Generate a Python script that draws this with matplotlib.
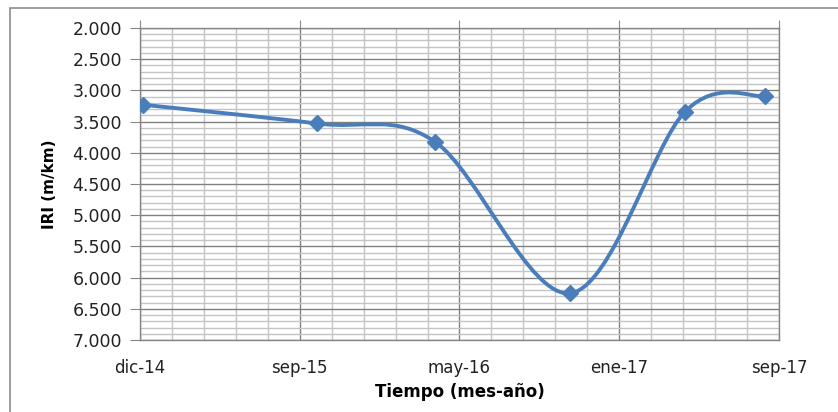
import matplotlib
matplotlib.use("Agg")
import matplotlib.pyplot as plt
import matplotlib.dates as mdates
import numpy as np
from matplotlib.path import Path
from matplotlib.patches import PathPatch, Rectangle
from matplotlib.ticker import MultipleLocator, FixedLocator, FuncFormatter
from datetime import date

# survey dates and IRI readings (m/km)
fechas = ["2015-01-05", "2015-09-28", "2016-03-27", "2016-10-21", "2017-04-15", "2017-08-15"]
iri = [3.23, 3.53, 3.82, 6.25, 3.34, 3.09]

eje_inicio = "2014-12-31"
paso_dias = 245
etiquetas_x = ["dic-14", "sep-15", "may-16", "ene-17", "sep-17"]

azul = "#4A7EBB"

x = mdates.date2num([date.fromisoformat(f) for f in fechas])
y = np.array(iri)
x0 = mdates.date2num(date.fromisoformat(eje_inicio))
mayores = [x0 + i * paso_dias for i in range(len(etiquetas_x))]
menores = [x0 + i * paso_dias / 5 for i in range(5 * (len(etiquetas_x) - 1) + 1)]

plt.rcParams['font.family'] = ['DejaVu Sans']

fig = plt.figure(figsize=(8.38, 4.12), dpi=100)
fig.patches.append(Rectangle((10 / 838, -0.1), 1.2, 1.1 - 8 / 412,
                             transform=fig.transFigure, fill=False,
                             edgecolor="#8c8c8c", lw=1.2, zorder=0))
ax = fig.add_axes([140 / 838, 72 / 412, 639 / 838, 312 / 412])

# smoothed line like excel: catmull-rom as cubic bezier
pts = np.column_stack([x, y])
verts = [pts[0]]
codes = [Path.MOVETO]
n = len(pts)
for i in range(n - 1):
    p0 = pts[max(i - 1, 0)]
    p1 = pts[i]
    p2 = pts[i + 1]
    p3 = pts[min(i + 2, n - 1)]
    c1 = p1 + (p2 - p0) / 6
    c2 = p2 - (p3 - p1) / 6
    verts += [c1, c2, p2]
    codes += [Path.CURVE4] * 3
ax.add_patch(PathPatch(Path(verts, codes), facecolor="none", edgecolor=azul,
                       lw=2.8, capstyle="round", joinstyle="round", zorder=3))
ax.plot(x, y, linestyle="none", marker="D", ms=8, color=azul, zorder=4)

ax.set_xlim(mayores[0], mayores[-1])
ax.set_ylim(7.0, 2.0)

ax.set_xticks(mayores)
ax.set_xticklabels(etiquetas_x)
ax.xaxis.set_minor_locator(FixedLocator(menores))
ax.yaxis.set_major_locator(MultipleLocator(0.5))
ax.yaxis.set_minor_locator(MultipleLocator(0.1))
ax.yaxis.set_major_formatter(FuncFormatter(lambda v, p: f"{v:.3f}"))

ax.tick_params(axis="x", which="major", top=True, bottom=False, labeltop=False,
               labelbottom=True, direction="out", length=6, color="#868686",
               labelsize=12, pad=8, labelcolor="#222222")
ax.tick_params(axis="x", which="minor", top=False, bottom=False)
ax.tick_params(axis="y", which="major", left=True, direction="out", length=7,
               color="#868686", labelsize=12.5, pad=6, labelcolor="#222222")
ax.tick_params(axis="y", which="minor", left=False)

ax.grid(which="major", color="#808080", lw=1.0, zorder=1)
ax.grid(which="minor", color="#c4c4c4", lw=1.0, zorder=1)
ax.set_axisbelow(True)
for s in ax.spines.values():
    s.set_color("#868686")
    s.set_linewidth(1.0)

ax.set_xlabel("Tiempo (mes-año)", fontsize=12, fontweight="bold", labelpad=4)
ax.set_ylabel("IRI (m/km)", fontsize=11, fontweight="bold", labelpad=11)

fig.savefig("out.png", dpi=100)
